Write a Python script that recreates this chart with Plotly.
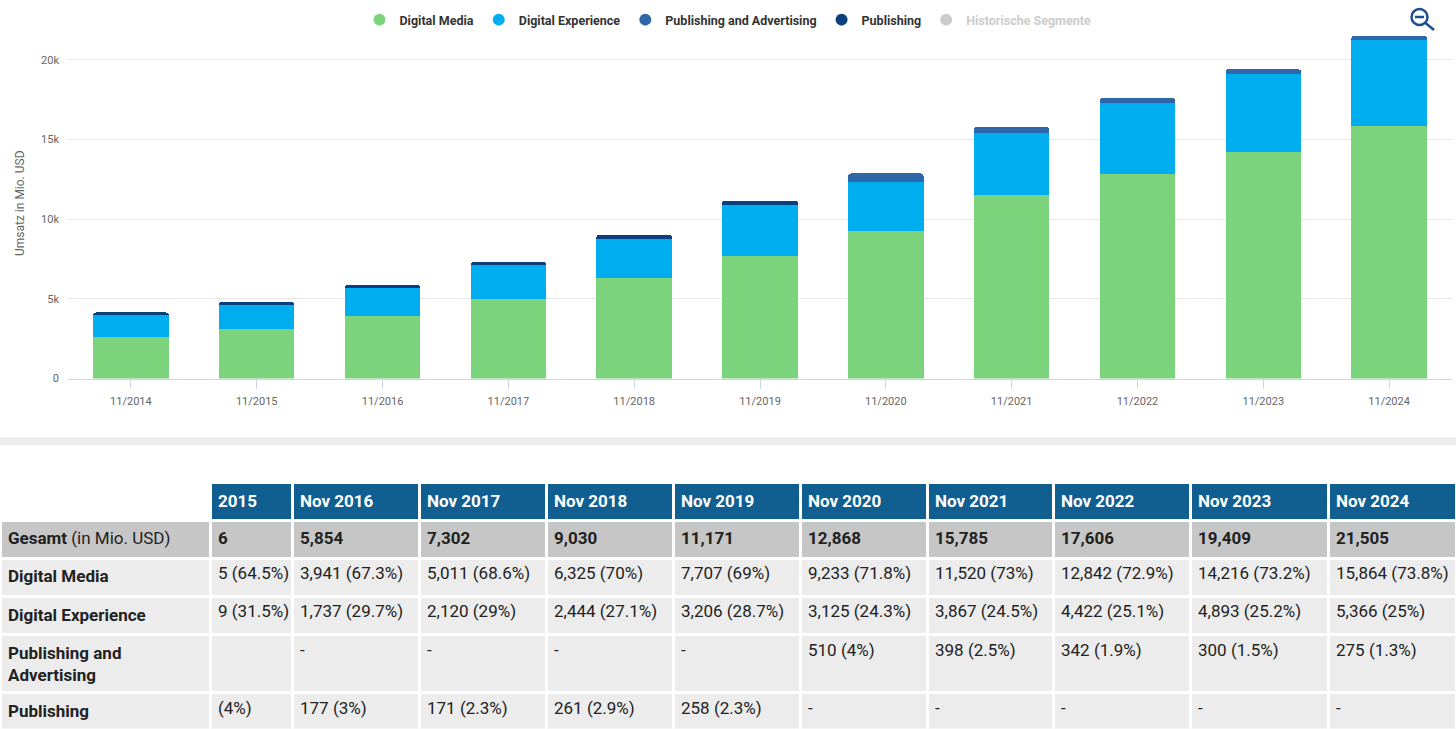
import plotly.graph_objects as go

W, H = 1456, 729

# --- data (Mio. USD, fiscal years ending November) ---
years = ["2014", "2015", "2016", "2017", "2018", "2019", "2020", "2021", "2022", "2023", "2024"]
digital_media = [2603, 3095, 3941, 5011, 6325, 7707, 9233, 11520, 12842, 14216, 15864]
digital_experience = [1355, 1509, 1737, 2120, 2444, 3206, 3125, 3867, 4422, 4893, 5366]
publishing_adv = [None, None, None, None, None, None, 510, 398, 342, 300, 275]
publishing = [189, 192, 177, 171, 261, 258, None, None, None, None, None]
totals = [4147, 4796, 5854, 7302, 9030, 11171, 12868, 15785, 17606, 19409, 21505]

x_labels = [f"11/{y}" for y in years]
header_labels = [f"Nov {y}" for y in years]

# table is scrolled: first visible year column, chars hidden on its left side
first_col = 1
hidden_chars = 4

GREEN = "#7bd47b"
CYAN = "#00aeef"
MIDBLUE = "#2e67a8"
NAVY = "#0c3f7e"
GREY_LEGEND = "#cccccc"
HEAD_BLUE = "#105f90"
ROW_TOTAL = "#c6c6c6"
ROW_BODY = "#ececec"
FONT = "Roboto"
NBSP = "\u00a0"


def px(x):
    return x / W


def py(y):
    return 1 - y / H


def pct_text(v, t):
    if v is None:
        return "-"
    p = f"{round(v / t * 100, 1):.1f}".rstrip("0").rstrip(".")
    return f"{v:,} ({p}%)"


series = [
    ("Digital Media", digital_media, GREEN),
    ("Digital Experience", digital_experience, CYAN),
    ("Publishing and Advertising", publishing_adv, MIDBLUE),
    ("Publishing", publishing, NAVY),
]

fig = go.Figure()

for name, vals, color in series:
    fig.add_trace(
        go.Bar(
            x=x_labels,
            y=vals,
            name=name,
            legendgroup=name,
            showlegend=False,
            marker={"color": color, "line": {"width": 0}},
            xaxis="x",
            yaxis="y",
        )
    )

# legend entries with round symbols
for name, _, color in series:
    fig.add_trace(
        go.Scatter(
            x=[None],
            y=[None],
            mode="markers",
            name=name,
            legendgroup=name,
            marker={"color": color, "size": 12, "symbol": "circle"},
        )
    )
fig.add_trace(
    go.Scatter(
        x=[None],
        y=[None],
        mode="markers",
        name=f"<span style='color:{GREY_LEGEND}'>Historische Segmente</span>",
        marker={"color": GREY_LEGEND, "size": 12, "symbol": "circle"},
    )
)

# --- table ---
label_col = [
    "<b>Gesamt</b> (in Mio. USD)",
    "<b>Digital Media</b>",
    "<b>Digital Experience</b>",
    "<b>Publishing and<br>Advertising</b>",
    "<b>Publishing</b>",
]
header_vals = [""]
cell_cols = [label_col]
for i in range(first_col, len(years)):
    raw = [
        f"{totals[i]:,}",
        pct_text(digital_media[i], totals[i]),
        pct_text(digital_experience[i], totals[i]),
        pct_text(publishing_adv[i], totals[i]),
        pct_text(publishing[i], totals[i]),
    ]
    head = header_labels[i]
    if i == first_col:
        raw = [s[hidden_chars:] for s in raw]
        head = head[hidden_chars:]
    raw = [s.replace(" ", NBSP) for s in raw]
    raw[0] = f"<b>{raw[0]}</b>" if raw[0] else ""
    header_vals.append(f"<b>{head.replace(' ', NBSP)}</b>")
    cell_cols.append(raw)

n_cols = len(cell_cols)
row_fill = [ROW_TOTAL, ROW_BODY, ROW_BODY, ROW_BODY, ROW_BODY]
col_widths = [210, 82, 127, 127, 127, 127, 127, 126, 137, 138, 128]

fig.add_trace(
    go.Table(
        domain={"x": [0, 1], "y": [0, py(482.5)]},
        columnwidth=col_widths,
        header={
            "values": header_vals,
            "fill": {"color": ["white"] + [HEAD_BLUE] * (n_cols - 1)},
            "line": {"color": "white", "width": 3},
            "align": "left",
            "height": 37.5,
            "font": {"family": FONT, "size": 17, "color": "white"},
        },
        cells={
            "values": cell_cols,
            "fill": {"color": [row_fill] * n_cols},
            "line": {"color": "white", "width": 3},
            "align": "left",
            "height": 38.3,
            "font": {"family": FONT, "size": 17, "color": "#222222"},
        },
    )
)

fig.update_layout(
    width=W,
    height=H,
    margin={"l": 0, "r": 0, "t": 0, "b": 0, "autoexpand": False},
    paper_bgcolor="white",
    plot_bgcolor="white",
    barmode="stack",
    bargap=0.4,
    barcornerradius=3,
    font={"family": FONT, "color": "#666666"},
    legend={
        "orientation": "h",
        "x": 0.5,
        "xanchor": "center",
        "y": py(20),
        "yanchor": "middle",
        "font": {"family": FONT, "size": 12.5, "color": "#333333", "weight": "bold"},
        "itemclick": False,
    },
    xaxis={
        "domain": [px(68), px(1452)],
        "anchor": "y",
        "type": "category",
        "showline": True,
        "linecolor": "#ccd6eb",
        "linewidth": 1,
        "ticks": "outside",
        "ticklen": 9,
        "tickcolor": "#ccd6eb",
        "showgrid": False,
        "tickfont": {"size": 11, "color": "#666666"},
        "ticklabelstandoff": 3,
        "fixedrange": True,
    },
    yaxis={
        "domain": [py(378.5), py(28)],
        "anchor": "x",
        "range": [0, 22000],
        "dtick": 5000,
        "tickformat": "~s",
        "showgrid": True,
        "gridcolor": "#e6e6e6",
        "gridwidth": 1,
        "zeroline": False,
        "tickfont": {"size": 11, "color": "#666666"},
        "ticklabelstandoff": 8,
        "title": {
            "text": "Umsatz in Mio. USD",
            "font": {"size": 12, "color": "#666666"},
            "standoff": 13,
        },
        "fixedrange": True,
    },
    shapes=[
        # separator band between chart and table
        dict(type="rect", xref="paper", yref="paper", x0=0, x1=1, y0=py(445), y1=py(437),
             fillcolor="#eeeeee", line={"width": 0}, layer="below"),
        # zoom-out icon
        dict(type="circle", xref="paper", yref="paper", x0=px(1411.5), x1=px(1427.5),
             y0=py(25), y1=py(9), line={"color": "#1c4f8f", "width": 2.5}),
        dict(type="line", xref="paper", yref="paper", x0=px(1415), x1=px(1424),
             y0=py(17), y1=py(17), line={"color": "#1c4f8f", "width": 2.5}),
        dict(type="line", xref="paper", yref="paper", x0=px(1425.5), x1=px(1434),
             y0=py(23), y1=py(30), line={"color": "#1c4f8f", "width": 2.5}),
    ],
)

fig.write_html(
    "out.html",
    config={"displayModeBar": False},
    post_script="document.body.style.margin='0';document.body.style.overflow='hidden';",
)
